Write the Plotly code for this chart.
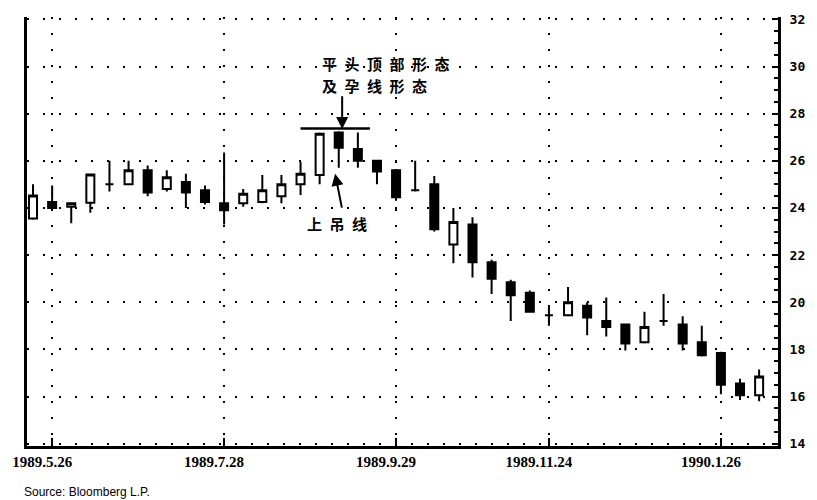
import plotly.graph_objects as go

dates = ["1989-05-19", "1989-05-26", "1989-06-02", "1989-06-09", "1989-06-16", "1989-06-23",
         "1989-06-30", "1989-07-07", "1989-07-14", "1989-07-21", "1989-07-28", "1989-08-04",
         "1989-08-11", "1989-08-18", "1989-08-25", "1989-09-01", "1989-09-08", "1989-09-15",
         "1989-09-22", "1989-09-29", "1989-10-06", "1989-10-13", "1989-10-20", "1989-10-27",
         "1989-11-03", "1989-11-10", "1989-11-17", "1989-11-24", "1989-12-01", "1989-12-08",
         "1989-12-15", "1989-12-22", "1989-12-29", "1990-01-05", "1990-01-12", "1990-01-19",
         "1990-01-26", "1990-02-02", "1990-02-09"]
opens = [23.55, 24.25, 24.05, 24.22, 25.0, 25.0, 25.6, 24.8, 25.1, 24.75, 24.2, 24.2, 24.25,
         24.5, 25.0, 25.4, 27.2, 26.5, 26.0, 25.6, 24.75, 25.0, 22.45, 23.3, 21.7, 20.85, 20.4,
         19.45, 19.45, 19.85, 19.2, 19.05, 18.3, 19.2, 19.05, 18.3, 17.85, 16.55, 16.05]
highs = [25.0, 24.95, 24.2, 25.45, 26.0, 26.0, 25.8, 25.6, 25.45, 24.95, 26.35, 24.8, 25.4,
         25.4, 25.95, 27.2, 27.25, 27.2, 26.0, 25.65, 26.0, 25.35, 24.0, 23.6, 21.8, 20.95, 20.5,
         19.85, 20.65, 20.0, 20.2, 19.1, 19.6, 20.35, 19.4, 19.0, 17.9, 16.75, 17.15]
lows = [23.5, 23.95, 23.35, 23.8, 24.7, 25.0, 24.5, 24.7, 24.0, 24.15, 23.3, 24.05, 24.2,
        24.2, 24.55, 25.0, 25.7, 25.7, 25.0, 24.3, 24.7, 23.0, 21.65, 21.05, 20.35, 19.2, 19.55,
        19.0, 19.4, 18.6, 18.55, 17.95, 18.25, 19.0, 17.95, 17.7, 16.1, 15.85, 15.8]
closes = [24.53, 24.0, 24.2, 25.42, 25.0, 25.6, 24.65, 25.3, 24.65, 24.25, 23.9, 24.6, 24.75,
          25.0, 25.45, 27.15, 26.55, 26.0, 25.55, 24.45, 24.75, 23.1, 23.4, 21.7, 21.0, 20.3, 19.6,
          19.45, 20.0, 19.35, 18.95, 18.25, 18.95, 19.2, 18.25, 17.75, 16.5, 16.05, 16.85]

tick_dates = ["1989-05-26", "1989-07-28", "1989-09-29", "1989-11-24", "1990-01-26"]
tick_text = ["1989.5.26", "1989.7.28", "1989.9.29", "1989.11.24", "1990.1.26"]
y_ticks = list(range(14, 33, 2))

# annotation geometry
top_line_y = 27.37
top_line_x = ["1989-08-25", "1989-09-19 10:00"]
arrow1_head = ("1989-09-09 06:00", 27.35)
arrow1_tail = ("1989-09-09 06:00", 28.8)
arrow2_head = ("1989-09-06 16:00", 25.45)
arrow2_tail = ("1989-09-09 06:00", 23.95)

fig = go.Figure()
fig.add_trace(go.Candlestick(
    x=dates, open=opens, high=highs, low=lows, close=closes,
    increasing=dict(fillcolor="white", line=dict(color="black", width=2)),
    decreasing=dict(fillcolor="black", line=dict(color="black", width=2)),
    whiskerwidth=0, showlegend=False, hoverinfo="skip",
))

fig.add_shape(type="line", xref="x", yref="y", x0=top_line_x[0], x1=top_line_x[1],
              y0=top_line_y, y1=top_line_y, line=dict(color="black", width=2.5))

fig.add_annotation(x=arrow1_head[0], y=arrow1_head[1], ax=arrow1_tail[0], ay=arrow1_tail[1],
                   xref="x", yref="y", axref="x", ayref="y", text="", showarrow=True,
                   arrowhead=2, arrowsize=1.2, arrowwidth=2, arrowcolor="black")
fig.add_annotation(x=arrow2_head[0], y=arrow2_head[1], ax=arrow2_tail[0], ay=arrow2_tail[1],
                   xref="x", yref="y", axref="x", ayref="y", text="", showarrow=True,
                   arrowhead=2, arrowsize=1.2, arrowwidth=2, arrowcolor="black")

cjk = dict(family="Noto Sans CJK SC", size=15, color="black")
sp = "\u2002"
fig.add_annotation(x=0.391, y=0.891, xref="paper", yref="paper", xanchor="left", yanchor="middle",
                   text="<b>" + sp.join("平头顶部形态") + "</b>", showarrow=False, font=cjk,
                   borderpad=0)
fig.add_annotation(x=0.391, y=0.840, xref="paper", yref="paper", xanchor="left", yanchor="middle",
                   text="<b>" + sp.join("及孕线形态") + "</b>", showarrow=False, font=cjk,
                   borderpad=0)
fig.add_annotation(x=0.372, y=0.5185, xref="paper", yref="paper", xanchor="left", yanchor="middle",
                   text="<b>" + sp.join("上吊线") + "</b>", showarrow=False, font=cjk,
                   borderpad=0)

fig.add_annotation(x=-0.006, y=-0.107, xref="paper", yref="paper", xanchor="left", yanchor="middle",
                   text="Source: Bloomberg L.P.", showarrow=False,
                   font=dict(family="Liberation Sans", size=12, color="black"))

fig.update_layout(
    width=817, height=500,
    margin=dict(l=22, r=37, t=14, b=54),
    paper_bgcolor="white", plot_bgcolor="white",
    boxgap=0.4,
    xaxis=dict(
        type="date", range=["1989-05-16 19:00", "1990-02-15 22:00"],
        rangeslider=dict(visible=False),
        tickvals=tick_dates, ticktext=tick_text,
        tickfont=dict(family="Liberation Serif", size=15, color="black", weight="bold"),
        ticks="inside", ticklen=8, tickwidth=2, tickcolor="black",
        ticklabelshift=-10,
        showgrid=True, gridcolor="black", griddash="2px,14px", gridwidth=2,
        showline=True, linecolor="black", linewidth=3, mirror=False,
        zeroline=False,
    ),
    yaxis=dict(
        side="right", range=[13.9, 32.1],
        tickvals=y_ticks,
        tickfont=dict(family="DejaVu Sans Mono", size=13, color="black", weight="bold"),
        ticks="inside", ticklen=6, tickwidth=2, tickcolor="black",
        minor=dict(dtick=0.5, ticks="inside", ticklen=4, tickwidth=1.5, tickcolor="black", showgrid=False),
        showgrid=True, gridcolor="black", griddash="2px,14px", gridwidth=2,
        showline=True, linecolor="black", linewidth=3, mirror=True,
        zeroline=False,
        ticklabelstandoff=6,
    ),
)

fig.write_html("out.html", config={"displayModeBar": False},
               post_script="document.body.style.margin='0';document.body.style.padding='0';")
